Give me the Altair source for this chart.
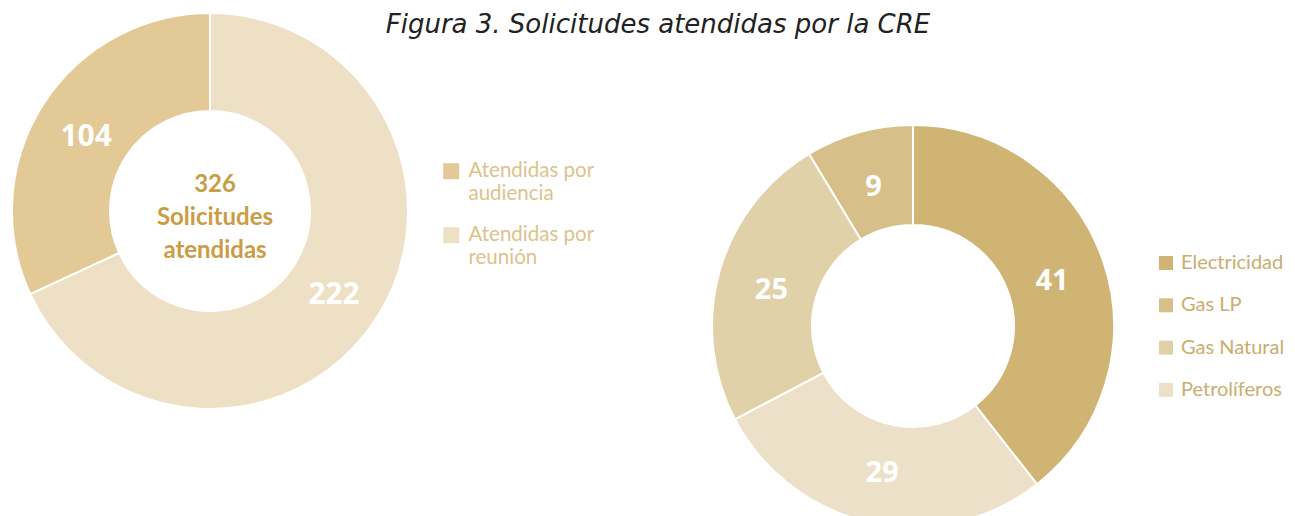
import altair as alt
import pandas as pd

# ---- data ----
tipos = ["Atendidas por audiencia", "Atendidas por reunión"]
tipos_valores = [104, 222]
tipos_orden = [2, 1]          # clockwise order from 12 o'clock
tipos_colores = ["#E2C995", "#EDE0C4"]

sectores = ["Electricidad", "Gas LP", "Gas Natural", "Petrolíferos"]
sectores_valores = [41, 9, 25, 29]
sectores_orden = [1, 4, 3, 2]
sectores_colores = ["#CFB473", "#D6BF89", "#E1D1A8", "#ECE1C8"]

titulo = "Figura 3. Solicitudes atendidas por la CRE"
centro_texto = ["Solicitudes", "atendidas"]

df1 = pd.DataFrame({"tipo": tipos, "valor": tipos_valores, "orden": tipos_orden})
df2 = pd.DataFrame({"sector": sectores, "valor": sectores_valores, "orden": sectores_orden})
total = sum(tipos_valores)
df_centro = pd.DataFrame({"lineas": [[str(total)] + centro_texto]})
df_titulo = pd.DataFrame({"t": [titulo]})

W, H = 1279, 508
C1 = (202, 203)
C2 = (905, 318)

label_expr = ("[substring(datum.label, 0, lastindexof(datum.label, ' ')), "
              "substring(datum.label, lastindexof(datum.label, ' ') + 1)]")

arc1 = alt.Chart(df1).mark_arc(outerRadius=198, innerRadius=100, stroke="white", strokeWidth=2).encode(
    theta=alt.Theta("valor:Q", stack=True),
    color=alt.Color("tipo:N", scale=alt.Scale(domain=tipos, range=tipos_colores),
                    legend=alt.Legend(orient="none", legendX=433, legendY=153, title=None,
                                      symbolType="square", symbolSize=256, symbolStrokeWidth=0,
                                      labelFont="Lato", labelFontSize=20.5, labelColor="#DDC28C",
                                      labelExpr=label_expr, rowPadding=20, labelOffset=7)),
    order=alt.Order("orden:Q"),
    x=alt.value(C1[0]), y=alt.value(C1[1]),
)
lab1 = alt.Chart(df1).mark_text(radius=147, font="Open Sans", fontSize=30, fontWeight="bold",
                                color="white", dy=5).encode(
    theta=alt.Theta("valor:Q", stack=True),
    text="valor:Q",
    order=alt.Order("orden:Q"),
    x=alt.value(C1[0]), y=alt.value(C1[1]),
)
centro = alt.Chart(df_centro).mark_text(font="Lato", fontSize=24, fontWeight="bold", color="#C99C45",
                                        lineHeight=33, baseline="middle").encode(
    text="lineas:N",
    x=alt.value(C1[0] + 5), y=alt.value(C1[1] - 26),
)

arc2 = alt.Chart(df2).mark_arc(outerRadius=201, innerRadius=101, stroke="white", strokeWidth=2).encode(
    theta=alt.Theta("valor:Q", stack=True),
    color=alt.Color("sector:N", scale=alt.Scale(domain=sectores, range=sectores_colores),
                    legend=alt.Legend(orient="none", legendX=1148, legendY=245, title=None,
                                      symbolType="square", symbolSize=196, symbolStrokeWidth=0,
                                      labelFont="Lato", labelFontSize=20, labelColor="#C9AE6E",
                                      rowPadding=22.3, labelOffset=5)),
    order=alt.Order("orden:Q"),
    x=alt.value(C2[0]), y=alt.value(C2[1]),
)
lab2 = alt.Chart(df2).mark_text(radius=147, font="Open Sans", fontSize=29, fontWeight="bold",
                                color="white", dy=3).encode(
    theta=alt.Theta("valor:Q", stack=True),
    text="valor:Q",
    order=alt.Order("orden:Q"),
    x=alt.value(C2[0]), y=alt.value(C2[1]),
)

tit = alt.Chart(df_titulo).mark_text(font="DejaVu Sans", fontSize=26, fontStyle="italic", fontWeight=300,
                                     color="#222222").encode(
    text="t:N", x=alt.value(650), y=alt.value(17),
)

chart = alt.layer(arc1, lab1, centro, arc2, lab2, tit).resolve_scale(
    color="independent", theta="independent"
).properties(
    width=W, height=H, padding=0, autosize=alt.AutoSizeParams(type="none")
).configure_view(stroke=None)

chart.save("out.html", embed_options={"renderer": "svg", "actions": False})
